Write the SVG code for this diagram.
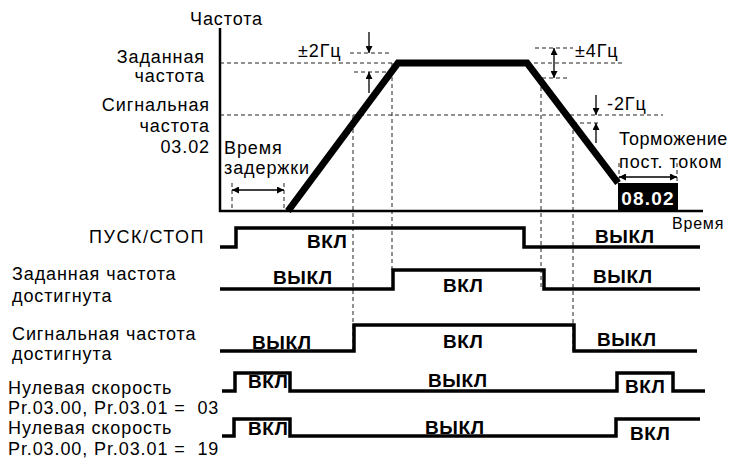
<svg xmlns="http://www.w3.org/2000/svg" width="736" height="462" viewBox="0 0 736 462">
<defs>
<style>
.t{font-family:"Liberation Sans",Arial,sans-serif;font-size:18px;fill:#000;letter-spacing:0.9px}
.s{font-size:16px;letter-spacing:0.8px}
.b{font-weight:bold;font-size:19px;letter-spacing:0.6px}
.d{stroke:#222;stroke-width:1;stroke-dasharray:4 3;fill:none}
.w{stroke:#000;stroke-width:3.5;fill:none;stroke-linejoin:miter}
.r{stroke:#000;stroke-width:7;fill:none;stroke-linejoin:miter}
.ax{stroke:#000;stroke-width:2.5;fill:none}
.a{stroke:#000;stroke-width:1.3;fill:none}
</style>
<marker id="ah" viewBox="0 0 10 10" refX="10" refY="5" markerWidth="8" markerHeight="7" orient="auto-start-reverse" markerUnits="userSpaceOnUse">
<path d="M0,0 L10,5 L0,10 z" fill="#000"/>
</marker>
</defs>
<rect width="736" height="462" fill="#fff"/>

<g id="dashes">
<path class="d" d="M220,63H397 M527,63H625 M350,53H390 M354,72H390 M535,48H573 M542,78H570 M220,115H663 M573,123H600"/>
<path class="d" d="M353,115V351 M392,63V270 M541,80V289 M573,123V351 M232,183V211 M284,183V211 M619,163V183 M677,163V183"/>
</g>

<g id="axes">
<path class="ax" d="M220,28V211H703"/>
</g>

<g id="freq-curve">
<path class="r" d="M288,211L398,63H527L618,183"/>
<rect x="618" y="183" width="60" height="28" fill="#000"/>
<text class="t" x="648" y="205" text-anchor="middle" style="font-weight:bold;fill:#fff;font-size:19px;letter-spacing:1.2px">08.02</text>
</g>

<g id="connectors">
<line class="a" x1="369" y1="32" x2="369" y2="53" marker-end="url(#ah)"/>
<line class="a" x1="369" y1="93" x2="369" y2="72" marker-end="url(#ah)"/>
<line class="a" x1="554" y1="48" x2="554" y2="78" marker-start="url(#ah)" marker-end="url(#ah)"/>
<line class="a" x1="596" y1="95" x2="596" y2="115" marker-end="url(#ah)"/>
<line class="a" x1="596" y1="143" x2="596" y2="123" marker-end="url(#ah)"/>
<line class="a" x1="232" y1="190" x2="284" y2="190" marker-start="url(#ah)" marker-end="url(#ah)"/>
<line class="a" x1="619" y1="177" x2="677" y2="177" marker-start="url(#ah)" marker-end="url(#ah)"/>
</g>

<g id="top-labels">
<text class="t" x="190" y="25">Частота</text>
<text class="t" x="205" y="63" text-anchor="end">Заданная</text>
<text class="t" x="205" y="82" text-anchor="end">частота</text>
<text class="t" x="210" y="111" text-anchor="end">Сигнальная</text>
<text class="t" x="210" y="132" text-anchor="end">частота</text>
<text class="t" x="210" y="153" text-anchor="end">03.02</text>
<text class="t" x="224" y="154">Время</text>
<text class="t" x="224" y="174">задержки</text>
<text class="t" x="298" y="57">±2Гц</text>
<text class="t" x="575" y="57">±4Гц</text>
<text class="t" x="607" y="110">-2Гц</text>
<text class="t" x="619" y="145" style="letter-spacing:0.5px">Торможение</text>
<text class="t" x="619" y="168">пост. током</text>
<text class="t s" x="672" y="229">Время</text>
</g>

<g id="row-run">
<text class="t" x="205" y="243" text-anchor="end" style="letter-spacing:1.5px">ПУСК/СТОП</text>
<path class="w" d="M220,247H236V228H524V247H700"/>
<text class="t b" x="307" y="248">ВКЛ</text>
<text class="t b" x="595" y="243">ВЫКЛ</text>
</g>

<g id="row-set">
<text class="t" x="12" y="280">Заданная частота</text>
<text class="t" x="12" y="302">достигнута</text>
<path class="w" d="M220,289H393V270H544V289H700"/>
<text class="t b" x="273" y="284">ВЫКЛ</text>
<text class="t b" x="443" y="292">ВКЛ</text>
<text class="t b" x="593" y="283">ВЫКЛ</text>
</g>

<g id="row-signal">
<text class="t" x="12" y="340">Сигнальная частота</text>
<text class="t" x="12" y="360">достигнута</text>
<path class="w" d="M220,351H354V325H574V351H697"/>
<text class="t b" x="252" y="349">ВЫКЛ</text>
<text class="t b" x="443" y="348">ВКЛ</text>
<text class="t b" x="597" y="346">ВЫКЛ</text>
</g>

<g id="row-zero03">
<text class="t" x="8" y="394">Нулевая скорость</text>
<text class="t" x="8" y="414" xml:space="preserve">Pr.03.00, Pr.03.01 =  03</text>
<path class="w" d="M222,391H235V373H290V391H617V373H673V391H705"/>
<text class="t b" x="248" y="388">ВКЛ</text>
<text class="t b" x="428" y="387">ВЫКЛ</text>
<text class="t b" x="625" y="393">ВКЛ</text>
</g>

<g id="row-zero19">
<text class="t" x="8" y="434">Нулевая скорость</text>
<text class="t" x="8" y="455" xml:space="preserve">Pr.03.00, Pr.03.01 =  19</text>
<path class="w" d="M222,436H234V419H290V436H616V419H700"/>
<text class="t b" x="248" y="435">ВКЛ</text>
<text class="t b" x="425" y="434">ВЫКЛ</text>
<text class="t b" x="630" y="440">ВКЛ</text>
</g>
</svg>
